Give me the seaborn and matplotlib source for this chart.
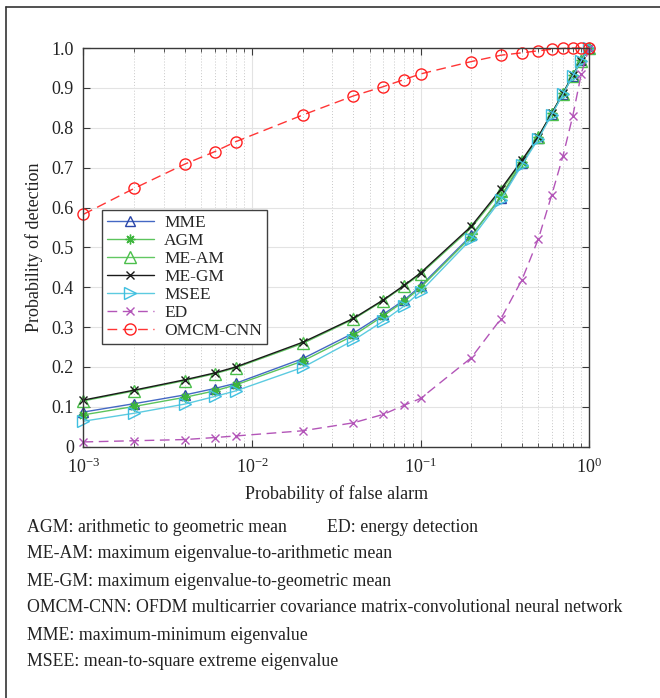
import numpy as np
import pandas as pd
import matplotlib
matplotlib.use("Agg")
import matplotlib.pyplot as plt
from matplotlib.lines import Line2D
from matplotlib.ticker import LogLocator, FixedLocator, NullFormatter
import seaborn as sns

# data
pfa = [0.001, 0.002, 0.004, 0.006, 0.008, 0.02, 0.04, 0.06, 0.08, 0.1,
       0.2, 0.3, 0.4, 0.5, 0.6, 0.7, 0.8, 0.9, 1.0]
mme = [0.087, 0.108, 0.130, 0.146, 0.159, 0.221, 0.285, 0.332, 0.368, 0.403,
       0.530, 0.625, 0.711, 0.775, 0.835, 0.885, 0.930, 0.970, 1.0]
agm = [0.080, 0.101, 0.124, 0.140, 0.155, 0.215, 0.279, 0.328, 0.365, 0.399,
       0.527, 0.628, 0.715, 0.777, 0.836, 0.886, 0.932, 0.970, 1.0]
me_am = [0.115, 0.140, 0.166, 0.183, 0.198, 0.259, 0.320, 0.366, 0.403, 0.433,
         0.549, 0.641, 0.716, 0.776, 0.835, 0.885, 0.931, 0.968, 1.0]
me_gm = [0.117, 0.142, 0.168, 0.185, 0.200, 0.262, 0.322, 0.368, 0.405, 0.436,
         0.553, 0.646, 0.719, 0.778, 0.836, 0.886, 0.932, 0.968, 1.0]
msee = [0.064, 0.084, 0.107, 0.126, 0.140, 0.199, 0.267, 0.315, 0.353, 0.389,
        0.521, 0.620, 0.707, 0.772, 0.833, 0.884, 0.930, 0.968, 1.0]
ed = [0.012, 0.015, 0.018, 0.023, 0.027, 0.040, 0.060, 0.081, 0.104, 0.121,
      0.223, 0.321, 0.419, 0.521, 0.631, 0.729, 0.829, 0.936, 1.0]
omcm = [0.583, 0.648, 0.709, 0.740, 0.765, 0.832, 0.880, 0.903, 0.921, 0.935,
        0.966, 0.982, 0.988, 0.993, 0.997, 0.999, 1.0, 1.0, 1.0]

yticks = [0, 0.1, 0.2, 0.3, 0.4, 0.5, 0.6, 0.7, 0.8, 0.9, 1.0]
ytick_labels = ["0", "0.1", "0.2", "0.3", "0.4", "0.5", "0.6", "0.7", "0.8", "0.9", "1.0"]

captions = [
    "ME-AM: maximum eigenvalue-to-arithmetic mean",
    "ME-GM: maximum eigenvalue-to-geometric mean",
    "OMCM-CNN: OFDM multicarrier covariance matrix-convolutional neural network",
    "MME: maximum-minimum eigenvalue",
    "MSEE: mean-to-square extreme eigenvalue",
]

sns.set_theme(style="ticks")
plt.rcParams["font.family"] = ["Liberation Serif", "DejaVu Serif"]
plt.rcParams["mathtext.fontset"] = "stix"

fig = plt.figure(figsize=(6.6, 6.98), dpi=100)
ax = fig.add_axes([0.1265, 0.36, 0.766, 0.5712])

series = [
    ("MME", mme, "#4468c4", "^", "-", "#2a45a8", 7),
    ("AGM", agm, "#5cc45c", (8, 2, 0), "-", "#3db53d", 7),
    ("ME-AM", me_am, "#62c862", "^", "-", "#4cbf4c", 8),
    ("ME-GM", me_gm, "#1a1a1a", "x", "-", "#1a1a1a", 6),
    ("MSEE", msee, "#5ccbe0", ">", "-", "#3fbfe0", 8),
    ("ED", ed, "#b355b8", "x", "--", "#b355b8", 6),
    ("OMCM-CNN", omcm, "#ff3535", "o", "--", "#ff2020", 8),
]

for name, vals, col, mk, ls, mec, ms in series:
    sns.lineplot(x=pfa, y=vals, ax=ax, color=col, linestyle=ls, linewidth=1.0,
                 marker=mk, markersize=ms, markerfacecolor="none",
                 markeredgecolor=mec, markeredgewidth=1.0, label=name,
                 clip_on=False)

for ln in ax.get_lines():
    if ln.get_linestyle() == "--":
        ln.set_dashes((7, 4))

ax.set_xscale("log")
ax.set_xlim(1e-3, 1)
ax.set_ylim(0, 1)
ax.xaxis.set_major_locator(LogLocator(base=10, numticks=10))
ax.xaxis.set_minor_locator(LogLocator(base=10, subs=np.arange(2, 10), numticks=20))
ax.xaxis.set_minor_formatter(NullFormatter())
ax.yaxis.set_major_locator(FixedLocator(yticks))
ax.set_yticklabels(ytick_labels)

ax.grid(True, which="major", color="#e3e3e3", linewidth=0.8, linestyle="-")
ax.grid(True, which="minor", axis="x", color="#c8c8c8", linewidth=0.7, linestyle=(0, (1, 2)))
ax.set_axisbelow(True)

for sp in ax.spines.values():
    sp.set_visible(True)
    sp.set_color("#3a3a3a")
    sp.set_linewidth(1.0)

ax.tick_params(which="both", direction="in", top=True, right=True, colors="#3a3a3a",
               labelcolor="#222222", labelsize=13)
ax.tick_params(which="major", length=5, width=0.8)
ax.tick_params(which="minor", length=3, width=0.6)
ax.tick_params(axis="y", pad=7)
ax.tick_params(axis="x", pad=8)

ax.set_xlabel("Probability of false alarm", fontsize=13, color="#222222", labelpad=6)
ax.set_ylabel("Probability of detection", fontsize=13, color="#222222", labelpad=6)

leg = ax.legend(loc="upper left", bbox_to_anchor=(0.036, 0.594), borderaxespad=0,
                fontsize=12.5, frameon=True, fancybox=False, framealpha=1,
                edgecolor="#404040", handlelength=2.7, handletextpad=0.6,
                labelspacing=0.1, borderpad=0.3)
leg.get_frame().set_linewidth(1.0)

# caption under the chart
cap_size = 12.8
fig.text(27 / 660, 1 - 527 / 698, "AGM: arithmetic to geometric mean",
         fontsize=cap_size, va="center", ha="left", color="#222222")
fig.text(327 / 660, 1 - 527 / 698, "ED: energy detection",
         fontsize=cap_size, va="center", ha="left", color="#222222")
for i, line in enumerate(captions):
    fig.text(27 / 660, 1 - (554 + 27 * i) / 698, line,
             fontsize=cap_size, va="center", ha="left", color="#222222")

# partial frame (top and left edges)
fig.add_artist(Line2D([6.5 / 660, 6.5 / 660], [0, 1 - 7 / 698], color="#333333", lw=1.2))
fig.add_artist(Line2D([6.5 / 660, 1], [1 - 7 / 698, 1 - 7 / 698], color="#333333", lw=1.2))

fig.savefig("out.png", dpi=100)
